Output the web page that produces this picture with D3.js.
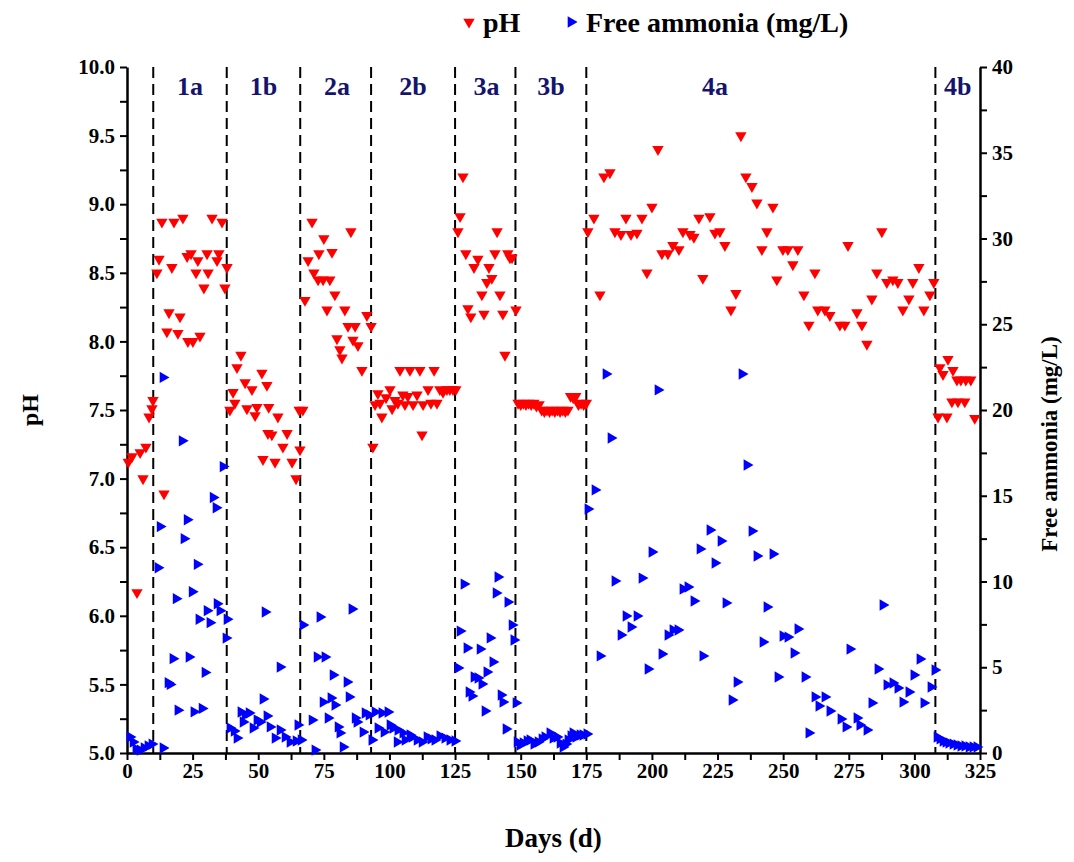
<!DOCTYPE html>
<html lang="en">
<head>
    <meta charset="UTF-8">
    <title>pH and free ammonia</title>
    <script src="https://d3js.org/d3.v7.min.js"></script>
    <style>
        body {
            margin: 0;
            padding: 0;
            background-color: #fff;
        }
        svg text {
            font-family: "Liberation Serif", "Times New Roman", serif;
            font-weight: bold;
        }
    </style>
</head>
<body>
    <div id="chart"></div>

    <script>
        // tick labels
        const dayTicks = [0, 25, 50, 75, 100, 125, 150, 175, 200, 225, 250, 275, 300, 325];
        const phTicks = [5.0, 5.5, 6.0, 6.5, 7.0, 7.5, 8.0, 8.5, 9.0, 9.5, 10.0];
        const faTicks = [0, 5, 10, 15, 20, 25, 30, 35, 40];

        // phase borders (days) and labels
        const phaseLines = [10, 38, 66, 93, 125, 148, 175, 308];
        const phaseNames = ['1a', '1b', '2a', '2b', '3a', '3b', '4a', '4b'];
        const phaseLabelDays = [24, 52, 80, 109, 137, 161.5, 224, 316.5];

        // pH [day, value]
        const phPoints = [
            [0.5, 7.12], [1.9, 7.16], [3.8, 6.17], [5.0, 7.19], [6.1, 7.0], [7.2, 7.23], [8.4, 7.45], [9.5, 7.51], [9.9, 7.57],
            [11.4, 8.50], [12.2, 8.60], [13.3, 8.87], [14.1, 6.89], [15.2, 8.07], [16.0, 8.21], [17.1, 8.54], [17.9, 8.87],
            [19.4, 8.06], [20.2, 8.18], [21.3, 8.90], [22.9, 8.62], [23.2, 8.00], [24.4, 8.64], [25.1, 8.00], [26.3, 8.50],
            [27.0, 8.59], [27.8, 8.04], [29.3, 8.39], [30.5, 8.64], [30.9, 8.50], [32.4, 8.90], [34.3, 8.59], [35.0, 8.64],
            [36.2, 8.87], [37.3, 8.39], [38.1, 8.54],
            [39.2, 7.50], [40.4, 7.63], [41.1, 7.55], [41.9, 7.81], [43.4, 7.90], [45.0, 7.70], [45.7, 7.51], [47.6, 7.65],
            [48.8, 7.46], [49.5, 7.52], [51.4, 7.77], [51.8, 7.14], [53.3, 7.68], [53.7, 7.33], [54.0, 7.52], [55.2, 7.32],
            [56.4, 7.12], [57.5, 7.45], [59.4, 7.23], [61.0, 7.33], [62.9, 7.12], [64.4, 7.00], [65.9, 7.21], [65.6, 7.50], [67.0, 7.50],
            [67.8, 8.30], [69.0, 8.59], [70.5, 8.87], [71.2, 8.50], [72.8, 8.45], [73.1, 8.64], [74.7, 8.45], [75.0, 8.75],
            [76.2, 8.23], [77.3, 8.45], [78.1, 8.65], [79.2, 8.34], [80.0, 8.02], [81.1, 7.94], [81.9, 7.88], [83.0, 8.23],
            [84.2, 8.11], [85.3, 8.80], [86.1, 8.01], [86.9, 8.11], [88.0, 7.97], [89.5, 7.79], [91.4, 8.19], [93.0, 8.11],
            [93.7, 7.23], [94.5, 7.54], [95.6, 7.62], [96.4, 7.55], [97.1, 7.45], [98.7, 7.59], [100.2, 7.65], [101.0, 7.51],
            [102.1, 7.57], [103.2, 7.55], [104.0, 7.79], [105.1, 7.61], [105.9, 7.54], [107.0, 7.60], [107.8, 7.79], [109.0, 7.54],
            [110.5, 7.61], [111.6, 7.79], [112.4, 7.32], [112.8, 7.54], [114.7, 7.65], [115.8, 7.55], [117.0, 7.79], [118.1, 7.55],
            [119.2, 7.65], [120.4, 7.63], [121.9, 7.65], [123.0, 7.65], [124.2, 7.65], [125.3, 7.65],
            [126.1, 8.80], [126.9, 8.91], [128.0, 9.20], [129.1, 8.64], [129.9, 8.24], [131.0, 8.18], [132.2, 8.54], [133.7, 8.60],
            [135.2, 8.34], [136.0, 8.20], [137.1, 8.43], [137.9, 8.54], [139.0, 8.46], [140.2, 8.64], [141.0, 8.80], [142.1, 8.34],
            [143.2, 8.20], [144.0, 7.90], [145.1, 8.64], [145.9, 8.61], [146.7, 8.61], [148.2, 8.23],
            [149, 7.55], [150, 7.54], [151, 7.55], [152, 7.54], [153, 7.55], [154, 7.54], [155, 7.55], [156, 7.53], [157, 7.54],
            [158, 7.50], [159, 7.49], [160, 7.50], [161, 7.49], [162, 7.50], [163, 7.49], [164, 7.50], [165, 7.49], [166, 7.50],
            [167, 7.49], [168, 7.50], [169, 7.60], [170, 7.59], [171, 7.60], [172, 7.54], [173, 7.55], [174, 7.54], [175, 7.55],
            [175.6, 8.80], [177.9, 8.90], [180.2, 8.34], [181.7, 9.20], [184.0, 9.23], [185.9, 8.80], [188.2, 8.78], [190.1, 8.90],
            [192.0, 8.78], [194.3, 8.79], [196.2, 8.90], [198.1, 8.50], [200.0, 8.98], [202.3, 9.40], [203.8, 8.64], [206.1, 8.64],
            [208.0, 8.70], [210.3, 8.67], [211.8, 8.80], [214.5, 8.78], [216.0, 8.76], [217.9, 8.90], [219.4, 8.46], [222.1, 8.91],
            [224.0, 8.79], [225.9, 8.80], [227.8, 8.70], [230.1, 8.23], [232.0, 8.35], [233.9, 9.50], [235.8, 9.20], [238.1, 9.13],
            [240.0, 9.01], [241.9, 8.67], [243.8, 8.80], [246.1, 8.98], [247.6, 8.45], [249.9, 8.67], [251.8, 8.67], [253.7, 8.56],
            [255.6, 8.67], [257.9, 8.34], [259.8, 8.12], [262.1, 8.50], [263.2, 8.23], [265.9, 8.23], [267.8, 8.19], [271.6, 8.12],
            [273.5, 8.12], [274.7, 8.70], [278.1, 8.21], [280.0, 8.12], [281.9, 7.98], [283.8, 8.31], [285.7, 8.50], [287.6, 8.80],
            [289.5, 8.43], [291.8, 8.45], [293.7, 8.43], [295.6, 8.23], [297.9, 8.31], [299.4, 8.43], [301.7, 8.54], [303.6, 8.23],
            [305.9, 8.34], [307.4, 8.43],
            [309.0, 7.45], [309.7, 7.81], [310.9, 7.76], [312.4, 7.45], [312.8, 7.87], [314.3, 7.56], [314.7, 7.79], [316.2, 7.72],
            [316.6, 7.56], [317.7, 7.72], [319.2, 7.56], [319.6, 7.72], [321.5, 7.72], [323.0, 7.44]
        ];

        // free ammonia (mg/L) [day, value]
        const faPoints = [
            [1.1, 0.93], [2.3, 0.64], [3.4, 0.23], [5.0, 0.17], [6.5, 0.29], [8.0, 0.41], [9.5, 0.52], [13.7, 0.29],
            [11.8, 10.8], [12.6, 13.2], [13.7, 21.9], [15.6, 4.1], [16.4, 4.0], [17.5, 5.5], [18.7, 9.0], [19.4, 2.5],
            [21.0, 18.2], [21.7, 12.5], [22.9, 13.6], [23.6, 5.6], [24.8, 9.4], [25.5, 2.4], [26.7, 11.0], [27.4, 7.8],
            [28.6, 2.6], [29.7, 4.7], [30.5, 8.3], [31.6, 7.6], [32.8, 14.9], [33.9, 14.3], [34.3, 8.7], [35.4, 8.3],
            [36.6, 16.7], [37.7, 6.7], [38.1, 7.8],
            [39.2, 1.46], [40.8, 1.28], [41.9, 0.87], [43.4, 2.39], [44.2, 1.81], [45.0, 2.22], [46.5, 2.33], [48.0, 1.46],
            [49.5, 1.92], [50.7, 1.81], [51.8, 3.15], [52.6, 8.22], [53.3, 2.16], [54.5, 1.52], [56.4, 0.87], [58.3, 1.34],
            [58.3, 5.01], [60.2, 0.93], [62.1, 0.64], [64.4, 0.70], [65.1, 1.63], [66.3, 0.76],
            [67.0, 7.46], [70.5, 1.92], [71.6, 0.17], [72.4, 5.60], [73.5, 7.93], [74.7, 2.97], [75.4, 5.60], [76.6, 2.04],
            [77.7, 3.21], [78.5, 4.55], [79.2, 2.80], [80.4, 1.52], [81.1, 1.17], [82.3, 0.35], [83.8, 4.14], [84.6, 3.27],
            [85.7, 8.40], [86.9, 2.04], [87.6, 1.81], [89.9, 1.22], [90.7, 2.33], [92.2, 2.22], [93.3, 0.76],
            [94.5, 2.39], [95.6, 1.46], [97.1, 2.33], [97.9, 1.22], [99.4, 2.39], [100.2, 1.63], [101.3, 1.46], [102.9, 0.64],
            [103.2, 1.34], [105.1, 1.17], [105.9, 0.76], [107.8, 1.05], [108.6, 0.93], [110.5, 0.76], [112.4, 0.64], [114.3, 0.93],
            [115.8, 0.82], [117.3, 0.76], [119.2, 0.99], [121.1, 0.87], [123.0, 0.76], [124.9, 0.70],
            [126.1, 4.96], [126.9, 7.11], [128.4, 9.85], [129.5, 6.12], [130.3, 3.56], [131.4, 3.32], [132.2, 4.43], [133.7, 4.37],
            [134.5, 6.06], [135.2, 4.02], [136.4, 2.45], [137.1, 4.72], [138.3, 6.71], [139.4, 5.31], [140.6, 9.33], [141.3, 10.26],
            [142.5, 3.38], [143.2, 2.97], [144.4, 1.40], [145.1, 8.80], [146.7, 7.46], [147.4, 6.59], [148.2, 2.92],
            [148.6, 0.64], [149.7, 0.47], [150.9, 0.58], [152.4, 0.70], [153.5, 0.76], [155.0, 0.52], [156.6, 0.64], [158.1, 0.82],
            [159.2, 0.93], [161.1, 1.17], [162.3, 0.87], [163.8, 0.93], [165.0, 0.58], [166.1, 0.35], [167.2, 0.52], [168.0, 0.76],
            [169.1, 0.99], [169.9, 1.17], [171.0, 0.93], [172.6, 1.05], [173.7, 1.05], [175.2, 1.11],
            [175.6, 14.23], [178.3, 15.34], [180.2, 5.66], [182.5, 22.10], [184.4, 18.37], [185.9, 10.03], [188.2, 6.88], [190.1, 7.99],
            [192.0, 7.35], [194.3, 7.99], [196.2, 10.20], [198.5, 4.90], [200.0, 11.72], [202.3, 21.17], [203.8, 5.77], [206.1, 6.88],
            [208.0, 7.17], [209.9, 7.17], [211.8, 9.56], [213.7, 9.68], [216.0, 8.86], [218.3, 11.90], [219.4, 5.66], [222.1, 13.00],
            [224.0, 11.08], [226.3, 12.36], [228.2, 8.75], [230.5, 3.09], [232.4, 4.14], [234.3, 22.10], [236.2, 16.79], [238.1, 12.94],
            [240.0, 11.49], [242.3, 6.47], [243.8, 8.51], [246.1, 11.60], [248.0, 4.43], [249.9, 6.82], [251.8, 6.76], [254.1, 5.83],
            [255.6, 7.23], [258.3, 4.43], [259.8, 1.17], [262.1, 3.27], [263.6, 2.74], [265.9, 3.27], [267.8, 2.45], [272.0, 1.98],
            [273.9, 1.52], [275.4, 6.06], [278.1, 2.04], [279.2, 1.63], [281.9, 1.34], [283.8, 2.92], [286.1, 4.90], [288.0, 8.63],
            [289.5, 3.97], [291.8, 4.08], [293.7, 3.79], [295.6, 2.97], [297.9, 3.56], [299.8, 4.55], [302.1, 5.48], [303.6, 2.92],
            [306.3, 3.85], [307.8, 4.84],
            [308.6, 0.93], [309.7, 0.82], [310.9, 0.70], [312.0, 0.64], [313.1, 0.58], [314.7, 0.52], [316.2, 0.47], [317.7, 0.41],
            [319.2, 0.41], [320.8, 0.35], [322.3, 0.35], [323.8, 0.35]
        ];

        const W = 1074, H = 862;
        const plotL = 127, plotR = 980, plotT = 67, plotB = 753;

        const svg = d3.select('#chart')
            .append('svg')
            .attr('width', W)
            .attr('height', H);

        const x = d3.scaleLinear().domain([0, 325]).range([plotL, plotR]);
        const yPH = d3.scaleLinear().domain([5, 10]).range([plotB, plotT]);
        const yFA = d3.scaleLinear().domain([0, 40]).range([plotB, plotT]);

        // minor + major ticks
        const xMinor = d3.range(0, 325.01, 12.5);
        const phMinor = d3.range(5, 10.001, 0.25);
        const faMinor = d3.range(0, 40.01, 2.5);

        function styleAxis(g) {
            g.select('.domain').attr('stroke', '#000').attr('stroke-width', 2.5);
            g.selectAll('.tick line').attr('stroke', '#000').attr('stroke-width', 2);
            g.selectAll('.tick text').style('font-size', '21px').attr('fill', '#000');
        }

        svg.append('g')
            .attr('transform', `translate(0,${plotB})`)
            .call(d3.axisBottom(x).tickValues(xMinor).tickSize(7).tickSizeOuter(0).tickPadding(3)
                .tickFormat(d => dayTicks.includes(d) ? d : ''))
            .call(styleAxis);

        svg.append('g')
            .attr('transform', `translate(${plotL},0)`)
            .call(d3.axisLeft(yPH).tickValues(phMinor).tickSize(7).tickSizeOuter(0).tickPadding(5)
                .tickFormat(d => phTicks.some(t => Math.abs(t - d) < 1e-6) ? d.toFixed(1) : ''))
            .call(styleAxis);

        svg.append('g')
            .attr('transform', `translate(${plotR},0)`)
            .call(d3.axisRight(yFA).tickValues(faMinor).tickSize(7).tickSizeOuter(0).tickPadding(5)
                .tickFormat(d => faTicks.includes(d) ? d : ''))
            .call(styleAxis);

        // phase dividers
        svg.append('g')
            .selectAll('line')
            .data(phaseLines)
            .enter()
            .append('line')
            .attr('x1', d => x(d))
            .attr('x2', d => x(d))
            .attr('y1', plotT)
            .attr('y2', plotB)
            .attr('stroke', '#000')
            .attr('stroke-width', 2)
            .attr('stroke-dasharray', '11,6');

        svg.append('g')
            .selectAll('text')
            .data(phaseNames)
            .enter()
            .append('text')
            .attr('x', (d, i) => x(phaseLabelDays[i]))
            .attr('y', 95)
            .attr('text-anchor', 'middle')
            .style('font-size', '26px')
            .attr('fill', '#14146e')
            .text(d => d);

        const downTri = d3.symbol().type(d3.symbolTriangle).size(56);
        const rightTri = d3.symbol().type(d3.symbolTriangle).size(56);

        svg.append('g')
            .selectAll('path')
            .data(phPoints)
            .enter()
            .append('path')
            .attr('d', downTri)
            .attr('transform', d => `translate(${x(d[0])},${yPH(d[1])}) rotate(180)`)
            .attr('fill', '#ff0000');

        svg.append('g')
            .selectAll('path')
            .data(faPoints)
            .enter()
            .append('path')
            .attr('d', rightTri)
            .attr('transform', d => `translate(${x(d[0])},${yFA(d[1])}) rotate(90)`)
            .attr('fill', '#0000ff');

        // axis titles
        svg.append('text')
            .attr('transform', `translate(38,${(plotT + plotB) / 2}) rotate(-90)`)
            .attr('text-anchor', 'middle')
            .style('font-size', '24px')
            .text('pH');

        svg.append('text')
            .attr('transform', 'translate(1057,444) rotate(-90)')
            .attr('text-anchor', 'middle')
            .style('font-size', '23px')
            .text('Free ammonia (mg/L)');

        svg.append('text')
            .attr('x', (plotL + plotR) / 2)
            .attr('y', 847)
            .attr('text-anchor', 'middle')
            .style('font-size', '27px')
            .text('Days (d)');

        // legend
        const legend = svg.append('g');
        legend.append('path')
            .attr('d', downTri)
            .attr('transform', 'translate(469,22) rotate(180)')
            .attr('fill', '#ff0000');
        legend.append('text')
            .attr('x', 483)
            .attr('y', 32)
            .style('font-size', '28px')
            .text('pH');
        legend.append('path')
            .attr('d', rightTri)
            .attr('transform', 'translate(571,22) rotate(90)')
            .attr('fill', '#0000ff');
        legend.append('text')
            .attr('x', 586)
            .attr('y', 32)
            .style('font-size', '28px')
            .text('Free ammonia (mg/L)');
    </script>
</body>
</html>
